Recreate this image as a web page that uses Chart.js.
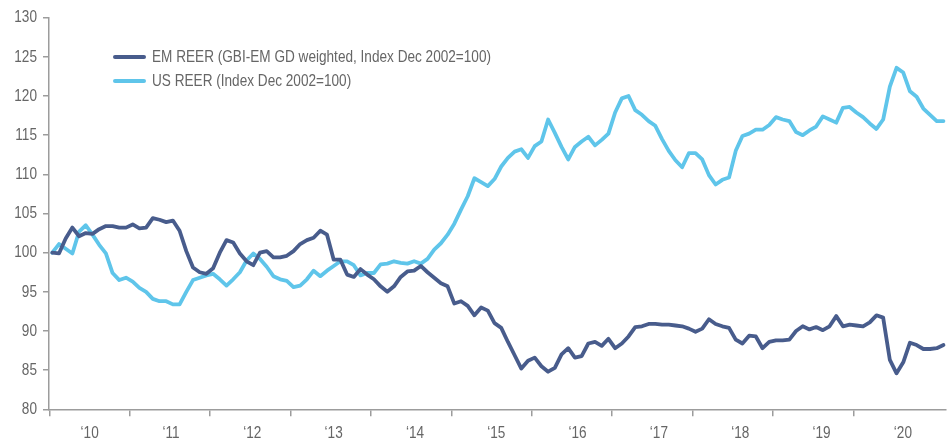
<!DOCTYPE html>
<html>
<head>
<meta charset="utf-8">
<script src="https://cdn.jsdelivr.net/npm/chart.js@4.4.1/dist/chart.umd.min.js"></script>
<style>
  html, body { margin: 0; padding: 0; background: #fff; }
</style>
</head>
<body>
<canvas id="reerChart" width="950" height="443"></canvas>
<script>
// year labels under the x axis
const yearLabels = ['\u201810', '\u201811', '\u201812', '\u201813', '\u201814', '\u201815',
    '\u201816', '\u201817', '\u201818', '\u201819', '\u201820'];

const seriesNames = [
    'EM REER (GBI-EM GD weighted, Index Dec 2002=100)',
    'US REER (Index Dec 2002=100)'
];

// monthly values
const emReer = [
    100.0, 99.9, 101.8, 103.2, 102.1, 102.5, 102.4, 103.0, 103.4, 103.4,
    103.2, 103.2, 103.6, 103.1, 103.2, 104.4, 104.2, 103.9, 104.1, 102.8,
    100.2, 98.1, 97.5, 97.3, 98.0, 100.0, 101.6, 101.3, 99.9, 98.9,
    98.4, 100.0, 100.2, 99.4, 99.4, 99.6, 100.2, 101.1, 101.6, 101.9,
    102.8, 102.3, 99.1, 99.1, 97.2, 96.9, 97.9, 97.2, 96.6, 95.7,
    95.0, 95.7, 96.9, 97.6, 97.7, 98.3, 97.5, 96.8, 96.1, 95.7,
    93.5, 93.8, 93.2, 92.0, 93.0, 92.6, 91.0, 90.4, 88.6, 86.9,
    85.2, 86.2, 86.6, 85.5, 84.8, 85.3, 87.0, 87.8, 86.6, 86.8,
    88.4, 88.6, 88.1, 89.0, 87.8, 88.4, 89.3, 90.5, 90.6, 90.9,
    90.9, 90.8, 90.8, 90.7, 90.6, 90.3, 89.9, 90.3, 91.5, 90.9,
    90.6, 90.4, 88.9, 88.4, 89.4, 89.3, 87.8, 88.6, 88.8, 88.8,
    88.9, 90.0, 90.6, 90.2, 90.5, 90.1, 90.6, 91.9, 90.6, 90.8,
    90.7, 90.6, 91.1, 92.0, 91.7, 86.3, 84.6, 86.0, 88.5, 88.2,
    87.7, 87.7, 87.8, 88.2
];

const usReer = [
    100.0, 101.1, 100.5, 99.9, 102.7, 103.5, 102.3, 101.0, 99.9, 97.4,
    96.5, 96.8, 96.3, 95.5, 95.0, 94.1, 93.8, 93.8, 93.4, 93.4,
    95.0, 96.5, 96.8, 97.1, 97.3, 96.6, 95.8, 96.6, 97.5, 99.0,
    99.9, 99.2, 98.2, 97.0, 96.6, 96.4, 95.6, 95.8, 96.6, 97.7,
    97.0, 97.7, 98.3, 98.9, 98.9, 98.4, 97.1, 97.4, 97.4, 98.5,
    98.6, 98.9, 98.7, 98.6, 98.9, 98.6, 99.2, 100.4, 101.2, 102.3,
    103.7, 105.5, 107.2, 109.5, 109.0, 108.5, 109.4, 111.0, 112.1, 112.9,
    113.2, 112.1, 113.6, 114.2, 117.0, 115.3, 113.5, 111.9, 113.5, 114.2,
    114.8, 113.7, 114.4, 115.2, 117.9, 119.7, 120.0, 118.2, 117.6, 116.8,
    116.2, 114.5, 113.0, 111.8, 110.9, 112.7, 112.7, 111.9, 109.9, 108.7,
    109.3, 109.6, 113.0, 114.9, 115.2, 115.7, 115.7, 116.3, 117.3, 117.0,
    116.8, 115.4, 115.0, 115.6, 116.1, 117.4, 117.0, 116.6, 118.5, 118.6,
    117.9, 117.3, 116.5, 115.8, 117.0, 121.2, 123.6, 123.0, 120.6, 119.9,
    118.4, 117.6, 116.8, 116.8
];

const emColor = '#485c8c';
const usColor = '#5fc5ea';
const axisColor = '#9c9c9c';
const textColor = '#666666';
const fontFamily = "'Liberation Sans', Arial, sans-serif";
// the original uses a narrow face, so text is squeezed sideways
const narrow = 0.8;

Chart.defaults.font.family = fontFamily;
Chart.defaults.font.size = 17;
Chart.defaults.color = textColor;

const toPoints = values => values.map((v, i) => ({ x: i, y: v }));

function narrowText(ctx, text, x, y, align) {
    ctx.save();
    ctx.translate(x, y);
    ctx.scale(narrow, 1);
    ctx.textAlign = align;
    ctx.textBaseline = 'middle';
    ctx.fillText(text, 0, 0);
    ctx.restore();
}

// axis labels and the two stacked legend rows
const textLayer = {
    id: 'textLayer',
    afterDraw(chart) {
        const ctx = chart.ctx;
        const yScale = chart.scales.y;
        const yearScale = chart.scales.xYears;
        ctx.save();
        ctx.fillStyle = textColor;
        ctx.font = '17px ' + fontFamily;

        yScale.ticks.forEach(t => {
            narrowText(ctx, String(t.value), yScale.right - 12, yScale.getPixelForValue(t.value), 'right');
        });

        yearScale.ticks.forEach((t, i) => {
            narrowText(ctx, yearLabels[i], yearScale.getPixelForValue(t.value), yearScale.top + 17, 'center');
        });

        chart.data.datasets.forEach((ds, i) => {
            const y = 57 + i * 24;
            ctx.strokeStyle = ds.borderColor;
            ctx.lineWidth = 4;
            ctx.lineCap = 'round';
            ctx.beginPath();
            ctx.moveTo(115, y);
            ctx.lineTo(144, y);
            ctx.stroke();
            narrowText(ctx, ds.label, 152, y, 'left');
        });
        ctx.restore();
    }
};

const ctx = document.getElementById('reerChart').getContext('2d');

const chart = new Chart(ctx, {
    type: 'line',
    data: {
        datasets: [
            {
                label: seriesNames[0],
                data: toPoints(emReer),
                borderColor: emColor,
                backgroundColor: emColor,
                borderWidth: 3.8,
                pointRadius: 0,
                tension: 0,
                borderJoinStyle: 'round',
                borderCapStyle: 'round'
            },
            {
                label: seriesNames[1],
                data: toPoints(usReer),
                borderColor: usColor,
                backgroundColor: usColor,
                borderWidth: 3.8,
                pointRadius: 0,
                tension: 0,
                borderJoinStyle: 'round',
                borderCapStyle: 'round'
            }
        ]
    },
    options: {
        responsive: false,
        animation: false,
        layout: { padding: { top: 17.7, right: 4, bottom: 0, left: 0 } },
        plugins: {
            legend: { display: false },
            tooltip: { enabled: false }
        },
        scales: {
            x: {
                type: 'linear',
                weight: 0,
                min: -0.49,
                max: 133.38,
                afterBuildTicks: s => {
                    s.ticks = yearLabels.map((_, k) => ({ value: -0.45 + 12 * k }));
                },
                afterFit: s => { s.height = 7; },
                ticks: { display: false },
                grid: {
                    drawOnChartArea: false,
                    drawTicks: true,
                    tickLength: 7,
                    color: axisColor,
                    lineWidth: 1.5
                },
                border: { display: true, color: axisColor, width: 1.5 }
            },
            xYears: {
                type: 'linear',
                position: 'bottom',
                weight: 1,
                min: 0,
                max: 11.03,
                afterBuildTicks: s => {
                    s.ticks = yearLabels.map((_, k) => ({ value: k + 0.5 }));
                },
                afterFit: s => { s.height = 26.7; },
                ticks: { display: false },
                grid: { display: false, drawTicks: false },
                border: { display: false }
            },
            y: {
                min: 80,
                max: 130,
                afterFit: s => { s.width = 49; },
                ticks: { display: false, stepSize: 5 },
                grid: {
                    drawOnChartArea: false,
                    tickLength: 6,
                    color: axisColor,
                    lineWidth: 1.5
                },
                border: { color: axisColor, width: 1.5 }
            }
        }
    },
    plugins: [textLayer]
});
</script>
</body>
</html>
